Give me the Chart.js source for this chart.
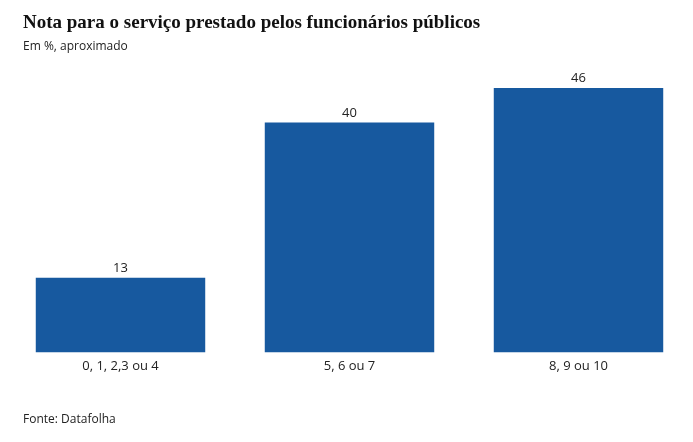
<!DOCTYPE html>
<html>
<head>
<meta charset="utf-8">
<script src="https://cdn.jsdelivr.net/npm/chart.js@4"></script>
<style>
  html, body { margin: 0; padding: 0; background: #fff; }
  #wrap { position: relative; width: 693px; height: 442px; }
  #titulo { position: absolute; left: 23px; top: 11px; font: bold 19px "Liberation Serif", serif; color: #111; white-space: nowrap; }
  #sub { position: absolute; left: 23px; top: 37px; font: 12px "Open Sans", sans-serif; color: #222; }
  #fonte { position: absolute; left: 23px; top: 410px; font: 12px "Open Sans", sans-serif; color: #222; }
</style>
</head>
<body>
<div id="wrap">
  <canvas id="grafico" width="693" height="442"></canvas>
  <div id="titulo">Nota para o serviço prestado pelos funcionários públicos</div>
  <div id="sub">Em %, aproximado</div>
  <div id="fonte">Fonte: Datafolha</div>
</div>
<script>
const categorias = ["0, 1, 2,3 ou 4", "5, 6 ou 7", "8, 9 ou 10"];
const valores = [13, 40, 46];

// rotulos em cima das barras
const rotulos = {
  id: 'rotulos',
  afterDatasetsDraw(chart) {
    const ctx = chart.ctx;
    const meta = chart.getDatasetMeta(0);
    ctx.save();
    ctx.font = '13px "Open Sans", sans-serif';
    ctx.fillStyle = '#222';
    ctx.textAlign = 'center';
    ctx.textBaseline = 'bottom';
    meta.data.forEach((bar, i) => {
      ctx.fillText(valores[i], bar.x, bar.y - 3);
    });
    ctx.restore();
  }
};

new Chart(document.getElementById("grafico"), {
  type: 'bar',
  data: {
    labels: categorias,
    datasets: [{
      data: valores,
      backgroundColor: "#17599f",
      categoryPercentage: 0.74,
      barPercentage: 1
    }]
  },
  options: {
    responsive: false,
    animation: false,
    layout: { padding: { top: 65, left: 6, right: 0, bottom: 62 } },
    plugins: {
      legend: { display: false },
      tooltip: { enabled: false }
    },
    scales: {
      x: {
        grid: { display: false, drawTicks: false },
        border: { display: false },
        ticks: { color: '#222', font: { family: '"Open Sans", sans-serif', size: 13 }, padding: 6 }
      },
      y: {
        min: 0,
        max: 50,
        display: false
      }
    }
  },
  plugins: [rotulos]
});
</script>
</body>
</html>
